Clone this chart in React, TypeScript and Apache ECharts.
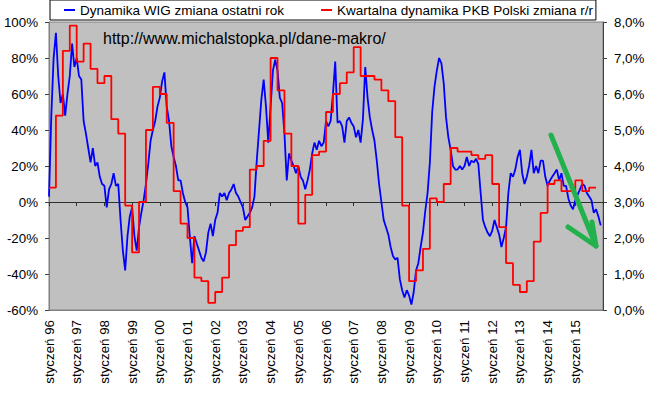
import React, { useEffect, useRef } from "react";
import * as echarts from "echarts";

// ---- data ----
const startYear = 1996;
const endYear = 2016;
const yearTicks = [1996, 1997, 1998, 1999, 2000, 2001, 2002, 2003, 2004, 2005, 2006, 2007, 2008, 2009, 2010, 2011, 2012, 2013, 2014, 2015];
const monthLabel = "styczeń";

// WIG y/y change, %, monthly from Jan 1996 to Dec 2015
const wig1996_1999 = [
  3, 48, 80, 94, 70, 55, 60, 48, 60, 70, 88, 75,
  80, 70, 68, 45, 38, 30, 22, 30, 20, 22, 14, 10,
  9, -3, 7, 10, 16, 9, 10, -10, -27, -38, -19, -8,
  -3, -19, -27, -14, -6, 1, 10, 21, 34, 40, 45, 53,
];
const wig2000_2003 = [
  58, 67, 72, 53, 45, 31, 25, 20, 12, 12, 5, 0,
  -3, -19, -34, -19, -23, -27, -31, -33, -28, -17, -12, -19,
  -10, -6, 5, 3, 5, 1, 5, 7, 10, 5, 3, 0,
  -3, -10, -8, -6, -3, 3, 23, 40, 57, 68, 53, 33,
];
const wig2004_2007 = [
  53, 73, 79, 73, 58, 55, 38, 12, 27, 23, 20, 16,
  20, 14, 12, 7, 12, 18, 27, 33, 29, 34, 31, 33,
  45, 42, 45, 60, 78, 44, 45, 42, 33, 45, 47, 44,
  42, 36, 40, 33, 46, 75, 58, 47, 40, 34, 23, 10,
];
const wig2008_2011 = [
  0, -10, -14, -18, -25, -30, -32, -31, -43, -49, -53, -49,
  -52, -57, -50, -38, -34, -25, -17, -5, 5, 22, 50, 64,
  73, 80, 77, 66, 47, 36, 29, 20, 18, 18, 20, 18,
  20, 25, 20, 23, 22, 24, 21, 5, -10, -14, -17, -19,
];
const wig2012_2015 = [
  -16, -10, -14, -18, -25, -20, -14, 5, 16, 14, 18, 25,
  29, 16, 10, 14, 20, 29, 16, 20, 16, 23, 23, 14,
  9, 12, 14, 16, 18, 12, 16, 9, 9, 2, -2, -4,
  1, 4, 7, 10, 9, 5, 3, 1, -6, -4, -8, -13,
];
const wigMonthly = [...wig1996_1999, ...wig2000_2003, ...wig2004_2007, ...wig2008_2011, ...wig2012_2015];

// Poland GDP y/y, %, quarterly from 1996Q1 to 2015Q3
const gdp1996_2000 = [
  3.4, 5.4, 7.2, 7.9,
  6.9, 7.4, 6.7, 6.3,
  6.5, 5.3, 4.9, 2.9,
  1.6, 3.0, 5.0, 6.2,
  6.0, 5.2, 3.3, 2.4,
];
const gdp2001_2005 = [
  2.0, 0.9, 0.8, 0.2,
  0.5, 0.9, 1.8, 2.2,
  2.3, 3.9, 4.0, 4.7,
  7.0, 6.1, 4.9, 4.0,
  2.4, 3.2, 4.3, 4.4,
];
const gdp2006_2010 = [
  5.5, 6.0, 6.3, 6.6,
  7.3, 6.5, 6.5, 6.4,
  6.1, 5.8, 4.8, 2.9,
  0.8, 1.1, 1.7, 3.1,
  3.0, 3.5, 4.5, 4.4,
];
const gdp2011_2015 = [
  4.4, 4.3, 4.2, 4.3,
  3.5, 2.3, 1.3, 0.7,
  0.5, 0.8, 1.9, 2.7,
  3.5, 3.6, 3.3, 3.3,
  3.6, 3.3, 3.4,
];
const gdpQuarterly = [...gdp1996_2000, ...gdp2001_2005, ...gdp2006_2010, ...gdp2011_2015];

const leftTicks = { min: -60, max: 100, interval: 20 };
const rightTicks = { min: 0, max: 8, interval: 1 };

const wigName = "Dynamika WIG zmiana ostatni rok";
const gdpName = "Kwartalna dynamika PKB Polski zmiana r/r";
const watermark = "http://www.michalstopka.pl/dane-makro/";

const FONT = "'Liberation Sans', Arial, sans-serif";

export default function App() {
  const ref = useRef<HTMLDivElement>(null);

  useEffect(() => {
    if (!ref.current) return;
    const chart = echarts.init(ref.current, null, { renderer: "svg" });

    const wigData = wigMonthly.map((v, i) => [startYear + i / 12, v]);
    const gdpData = gdpQuarterly.map((v, i) => [startYear + i / 4, v]);
    gdpData.push([startYear + gdpQuarterly.length / 4, gdpQuarterly[gdpQuarterly.length - 1]]);

    const xBase = {
      type: "value",
      min: startYear,
      max: endYear,
      interval: 1,
      splitLine: { show: false },
    };

    chart.setOption({
      animation: false,
      backgroundColor: "#ffffff",
      textStyle: { fontFamily: FONT },
      grid: {
        left: 49,
        right: 47,
        top: 22,
        bottom: 85,
        containLabel: false,
        show: true,
        backgroundColor: "#C0C0C0",
        borderColor: "#808080",
        borderWidth: 1,
      },
      legend: {
        left: 50,
        top: 0,
        data: [wigName, gdpName],
        icon: "rect",
        itemWidth: 11,
        itemHeight: 2,
        itemGap: 37,
        backgroundColor: "#ffffff",
        borderColor: "#000000",
        borderWidth: 1,
        borderRadius: 0,
        padding: [3, 3, 3, 14],
        textStyle: { fontSize: 13.5, color: "#000", fontFamily: FONT },
      },
      xAxis: [
        {
          ...xBase,
          position: "bottom",
          axisLine: { show: true, onZero: false, lineStyle: { color: "#808080" } },
          axisTick: { show: false },
          axisLabel: {
            rotate: 90,
            margin: 10,
            fontSize: 13.33,
            color: "#000",
            fontFamily: FONT,
            showMaxLabel: false,
            formatter: (v: number) =>
              yearTicks.includes(v) ? `${monthLabel} ${String(v).slice(2)}` : "",
          },
        },
        {
          ...xBase,
          position: "top",
          axisLine: { show: true, onZero: true, onZeroAxisIndex: 0, lineStyle: { color: "#303030", width: 1 } },
          axisTick: { show: true, inside: true, length: 4, lineStyle: { color: "#303030" } },
          axisLabel: { show: false },
        },
      ],
      yAxis: [
        {
          type: "value",
          position: "left",
          min: leftTicks.min,
          max: leftTicks.max,
          interval: leftTicks.interval,
          splitLine: { show: false },
          axisLine: { show: true, onZero: false, lineStyle: { color: "#808080" } },
          axisTick: { show: true, length: 4, lineStyle: { color: "#404040" } },
          axisLabel: { margin: 11, fontSize: 13.33, color: "#000", fontFamily: FONT, formatter: "{value}%" },
        },
        {
          type: "value",
          position: "right",
          min: rightTicks.min,
          max: rightTicks.max,
          interval: rightTicks.interval,
          splitLine: { show: false },
          axisLine: { show: true, onZero: false, lineStyle: { color: "#404040" } },
          axisTick: { show: true, length: 4, lineStyle: { color: "#404040" } },
          axisLabel: {
            margin: 11,
            fontSize: 13.33,
            color: "#000",
            fontFamily: FONT,
            formatter: (v: number) => v.toFixed(1).replace(".", ",") + "%",
          },
        },
      ],
      series: [
        {
          name: wigName,
          type: "line",
          xAxisIndex: 0,
          yAxisIndex: 0,
          data: wigData,
          showSymbol: false,
          symbol: "none",
          lineStyle: { color: "#0000FF", width: 1.8 },
          itemStyle: { color: "#0000FF" },
          z: 3,
        },
        {
          name: gdpName,
          type: "line",
          xAxisIndex: 0,
          yAxisIndex: 1,
          step: "end",
          data: gdpData,
          showSymbol: false,
          symbol: "none",
          lineStyle: { color: "#FF0000", width: 1.8 },
          itemStyle: { color: "#FF0000" },
          z: 4,
        },
      ],
      graphic: [
        {
          type: "text",
          z: 10,
          style: {
            x: 103,
            y: 38.5,
            text: watermark,
            fill: "#000",
            font: `16px ${FONT}`,
            verticalAlign: "middle",
          },
        },
        {
          type: "polyline",
          z: 20,
          shape: { points: [[551, 135], [596, 246]] },
          style: { stroke: "#22B14C", lineWidth: 5, lineCap: "round", lineJoin: "round", fill: null },
        },
        {
          type: "polyline",
          z: 20,
          shape: { points: [[568, 227], [596, 246], [592, 222]] },
          style: { stroke: "#22B14C", lineWidth: 5, lineCap: "round", lineJoin: "round", fill: null },
        },
      ],
    });

    return () => chart.dispose();
  }, []);

  return (
    <div
      ref={ref}
      style={{ position: "fixed", left: 0, top: 0, width: 650, height: 395, background: "#fff" }}
    />
  );
}
